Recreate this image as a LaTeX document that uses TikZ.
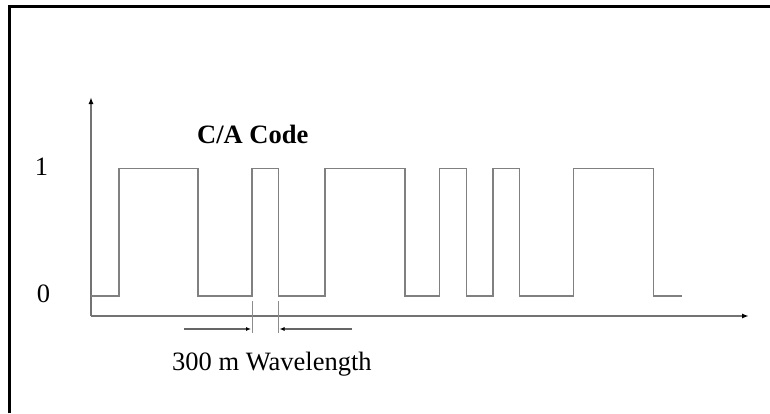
\documentclass[tikz,border=0pt]{standalone}
\usepackage{fontspec}
\setmainfont{Liberation Serif}
\usetikzlibrary{arrows.meta}
\begin{document}
\begin{tikzpicture}[x=1pt,y=-1pt,
  wave/.style={draw=black!50, line width=1.5pt},
  axis/.style={draw=black!55, line width=1.7pt, -{Latex[length=7pt,width=5pt,color=black]}},
  tick/.style={draw=black!45, line width=1pt},
  dim/.style={draw=black!60, line width=1.1pt, -{Latex[length=5pt,width=4pt,color=black]}},
  lbl/.style={inner sep=0pt, font=\fontsize{26.5}{31}\selectfont}]
\useasboundingbox (0,0) rectangle (770,413);
\fill[white] (0,0) rectangle (770,413);
\draw[line width=3pt] (9.5,413) -- (9.5,6.5) -- (770,6.5);
% axes
\coordinate (O) at (91,316);
\coordinate (Ytop) at (91,97);
\coordinate (Xend) at (749,316);
\draw[axis] (O) -- (Ytop);
\draw[axis] (O) -- (Xend);
% waveform
\draw[wave] (91,296) -- (119,296) -- (119,168.5) -- (198,168.5) -- (198,296) -- (252,296)
  -- (252,168.5) -- (278.5,168.5) -- (278.5,296) -- (325,296) -- (325,168.5) -- (405,168.5)
  -- (405,296) -- (439.5,296) -- (439.5,168.5) -- (466.5,168.5) -- (466.5,296) -- (493,296)
  -- (493,168.5) -- (519.5,168.5) -- (519.5,296) -- (573.5,296) -- (573.5,168.5) -- (653.5,168.5)
  -- (653.5,296) -- (682,296);
% ticks and dimension arrows
\coordinate (t1a) at (252,301);
\coordinate (t1b) at (252,333);
\coordinate (t2a) at (278.5,301);
\coordinate (t2b) at (278.5,333);
\draw[tick] (t1a) -- (t1b);
\draw[tick] (t2a) -- (t2b);
\coordinate (la) at (184,329);
\coordinate (lb) at (251,329);
\coordinate (ra) at (352,329);
\coordinate (rb) at (279.5,329);
\draw[dim] (la) -- (lb);
\draw[dim] (ra) -- (rb);
% labels
\node[lbl, anchor=base west, font=\fontsize{26.5}{31}\selectfont\bfseries] (code) at (197,143) {C/A Code};
\node[lbl, anchor=base] (one) at (41.5,175) {1};
\node[lbl, anchor=base] (zero) at (43.5,302) {0};
\node[lbl, anchor=base west] (wl) at (172,370.5) {300 m Wavelength};
\end{tikzpicture}
\end{document}
